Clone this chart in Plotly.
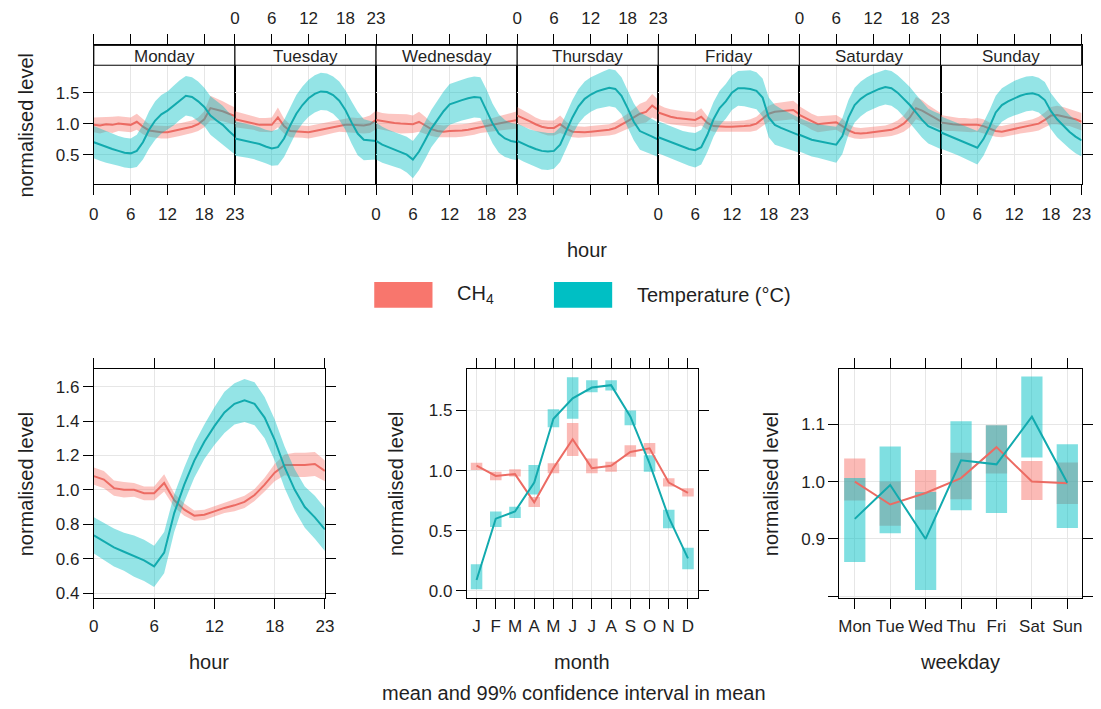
import plotly.graph_objects as go

# ---------------- data ----------------
DAYS = ["Monday", "Tuesday", "Wednesday", "Thursday", "Friday", "Saturday", "Sunday"]
HOURS = list(range(24))
HOUR_TICKS = [0, 6, 12, 18, 23]
MONTHS = list(range(1, 13))
MONTH_LABELS = ["J", "F", "M", "A", "M", "J", "J", "A", "S", "O", "N", "D"]
WEEKDAYS = list(range(1, 8))
WEEKDAY_LABELS = ["Mon", "Tue", "Wed", "Thu", "Fri", "Sat", "Sun"]

# day x hour means (one row per day, 24 hourly values)
CH4_DAYHOUR = [
    [0.98, 0.97, 0.99, 0.98, 1.00, 0.99, 0.98, 1.03, 0.95, 0.89, 0.87, 0.86, 0.86, 0.88, 0.90, 0.92, 0.95, 0.99, 1.07, 1.25, 1.23, 1.20, 1.16, 1.12],
    [1.07, 1.05, 1.03, 1.01, 0.98, 0.98, 0.98, 1.10, 0.96, 0.88, 0.87, 0.87, 0.86, 0.88, 0.90, 0.92, 0.95, 0.97, 0.98, 0.98, 0.97, 0.97, 0.99, 1.06],
    [1.06, 1.04, 1.02, 1.01, 1.00, 1.00, 0.99, 1.03, 0.97, 0.91, 0.88, 0.87, 0.88, 0.88, 0.89, 0.90, 0.92, 0.95, 0.96, 0.98, 1.00, 1.02, 1.04, 1.06],
    [1.13, 1.09, 1.04, 0.99, 0.95, 0.93, 0.93, 0.99, 0.92, 0.87, 0.86, 0.86, 0.87, 0.88, 0.89, 0.90, 0.93, 0.98, 1.04, 1.10, 1.16, 1.19, 1.29, 1.22],
    [1.18, 1.14, 1.11, 1.09, 1.08, 1.07, 1.06, 1.11, 1.01, 0.96, 0.95, 0.95, 0.95, 0.95, 0.96, 0.97, 1.00, 1.08, 1.16, 1.19, 1.20, 1.21, 1.22, 1.15],
    [1.14, 1.09, 1.03, 0.99, 1.00, 1.01, 1.02, 0.96, 0.89, 0.85, 0.84, 0.85, 0.86, 0.87, 0.88, 0.90, 0.94, 1.00, 1.10, 1.25, 1.21, 1.15, 1.09, 1.04],
    [1.02, 1.00, 0.99, 0.98, 0.98, 0.97, 0.98, 0.96, 0.92, 0.88, 0.87, 0.89, 0.91, 0.93, 0.95, 0.97, 1.00, 1.06, 1.13, 1.14, 1.12, 1.10, 1.07, 1.03],
]
CH4_DAYHOUR_HW = [
    [0.12, 0.13, 0.12, 0.13, 0.12, 0.12, 0.12, 0.13, 0.12, 0.10, 0.10, 0.10, 0.10, 0.10, 0.10, 0.10, 0.10, 0.11, 0.13, 0.20, 0.18, 0.16, 0.15, 0.14],
    [0.13, 0.12, 0.12, 0.11, 0.11, 0.11, 0.12, 0.16, 0.12, 0.10, 0.10, 0.10, 0.10, 0.10, 0.10, 0.10, 0.10, 0.10, 0.11, 0.12, 0.12, 0.13, 0.14, 0.15],
    [0.14, 0.13, 0.14, 0.15, 0.16, 0.15, 0.14, 0.16, 0.14, 0.11, 0.10, 0.10, 0.10, 0.10, 0.10, 0.10, 0.10, 0.10, 0.10, 0.11, 0.12, 0.12, 0.13, 0.14],
    [0.14, 0.13, 0.12, 0.11, 0.11, 0.12, 0.12, 0.14, 0.11, 0.09, 0.09, 0.09, 0.09, 0.09, 0.09, 0.09, 0.10, 0.11, 0.12, 0.14, 0.16, 0.17, 0.19, 0.16],
    [0.13, 0.12, 0.12, 0.12, 0.12, 0.12, 0.12, 0.14, 0.11, 0.09, 0.09, 0.09, 0.09, 0.09, 0.09, 0.10, 0.11, 0.12, 0.13, 0.14, 0.14, 0.15, 0.15, 0.14],
    [0.14, 0.13, 0.13, 0.13, 0.12, 0.12, 0.12, 0.12, 0.10, 0.09, 0.09, 0.09, 0.09, 0.09, 0.09, 0.10, 0.11, 0.13, 0.16, 0.18, 0.17, 0.15, 0.14, 0.13],
    [0.12, 0.12, 0.11, 0.11, 0.11, 0.11, 0.11, 0.11, 0.10, 0.09, 0.09, 0.09, 0.09, 0.09, 0.09, 0.10, 0.11, 0.12, 0.14, 0.15, 0.15, 0.14, 0.14, 0.14],
]
TEMP_DAYHOUR = [
    [0.70, 0.66, 0.62, 0.59, 0.56, 0.53, 0.52, 0.56, 0.70, 0.90, 1.05, 1.15, 1.21, 1.29, 1.38, 1.45, 1.43, 1.36, 1.27, 1.13, 1.05, 0.98, 0.88, 0.79],
    [0.76, 0.74, 0.72, 0.70, 0.67, 0.63, 0.60, 0.62, 0.76, 0.97, 1.16, 1.30, 1.41, 1.48, 1.52, 1.51, 1.46, 1.37, 1.22, 1.02, 0.84, 0.74, 0.73, 0.72],
    [0.72, 0.66, 0.62, 0.58, 0.55, 0.50, 0.42, 0.55, 0.73, 0.92, 1.06, 1.20, 1.31, 1.35, 1.38, 1.41, 1.43, 1.42, 1.22, 1.00, 0.84, 0.76, 0.72, 0.70],
    [0.72, 0.67, 0.63, 0.59, 0.56, 0.55, 0.56, 0.66, 0.88, 1.10, 1.28, 1.40, 1.47, 1.52, 1.55, 1.58, 1.56, 1.45, 1.25, 1.03, 0.88, 0.84, 0.79, 0.74],
    [0.78, 0.74, 0.70, 0.66, 0.62, 0.59, 0.57, 0.62, 0.82, 1.07, 1.25, 1.36, 1.50, 1.57, 1.57, 1.56, 1.53, 1.42, 1.10, 0.98, 0.93, 0.89, 0.85, 0.81],
    [0.82, 0.78, 0.74, 0.72, 0.70, 0.68, 0.66, 0.80, 1.10, 1.30, 1.40, 1.47, 1.52, 1.56, 1.59, 1.57, 1.50, 1.40, 1.30, 1.18, 1.06, 0.96, 0.91, 0.87],
    [0.86, 0.82, 0.78, 0.74, 0.70, 0.66, 0.61, 0.75, 0.95, 1.18, 1.30, 1.36, 1.41, 1.45, 1.48, 1.49, 1.46, 1.38, 1.20, 1.07, 0.97, 0.87, 0.79, 0.73],
]
TEMP_DAYHOUR_HW = [
    [0.26, 0.26, 0.25, 0.25, 0.24, 0.24, 0.24, 0.26, 0.28, 0.30, 0.31, 0.31, 0.31, 0.32, 0.32, 0.32, 0.32, 0.32, 0.31, 0.31, 0.31, 0.31, 0.30, 0.29],
    [0.28, 0.28, 0.27, 0.27, 0.27, 0.27, 0.28, 0.29, 0.30, 0.30, 0.30, 0.30, 0.30, 0.30, 0.30, 0.30, 0.30, 0.31, 0.32, 0.34, 0.35, 0.33, 0.31, 0.30],
    [0.30, 0.29, 0.28, 0.28, 0.28, 0.29, 0.30, 0.30, 0.30, 0.30, 0.31, 0.32, 0.33, 0.33, 0.33, 0.33, 0.33, 0.33, 0.33, 0.32, 0.31, 0.30, 0.29, 0.29],
    [0.28, 0.28, 0.28, 0.29, 0.30, 0.30, 0.29, 0.28, 0.28, 0.28, 0.28, 0.28, 0.28, 0.28, 0.29, 0.30, 0.30, 0.30, 0.30, 0.30, 0.30, 0.29, 0.29, 0.28],
    [0.26, 0.26, 0.26, 0.26, 0.26, 0.27, 0.28, 0.28, 0.28, 0.28, 0.28, 0.28, 0.28, 0.28, 0.29, 0.30, 0.30, 0.31, 0.32, 0.32, 0.31, 0.30, 0.29, 0.28],
    [0.27, 0.27, 0.27, 0.27, 0.27, 0.28, 0.29, 0.29, 0.28, 0.28, 0.28, 0.28, 0.28, 0.28, 0.28, 0.28, 0.28, 0.29, 0.29, 0.29, 0.29, 0.28, 0.28, 0.28],
    [0.26, 0.26, 0.26, 0.26, 0.26, 0.27, 0.27, 0.27, 0.27, 0.27, 0.27, 0.27, 0.28, 0.28, 0.28, 0.28, 0.28, 0.29, 0.29, 0.29, 0.28, 0.27, 0.27, 0.26],
]

# hour of day
CH4_HOUR = [1.08, 1.06, 1.01, 1.00, 1.00, 0.98, 0.98, 1.04, 0.94, 0.885, 0.85, 0.855, 0.875, 0.895, 0.91, 0.93, 0.97, 1.03, 1.10, 1.145, 1.145, 1.145, 1.15, 1.11]
CH4_HOUR_HW = [0.05, 0.05, 0.045, 0.045, 0.04, 0.04, 0.04, 0.05, 0.04, 0.035, 0.03, 0.03, 0.03, 0.03, 0.035, 0.035, 0.035, 0.04, 0.05, 0.06, 0.07, 0.07, 0.07, 0.06]
TEMP_HOUR = [0.735, 0.70, 0.665, 0.64, 0.615, 0.59, 0.555, 0.635, 0.865, 1.03, 1.17, 1.28, 1.37, 1.45, 1.50, 1.52, 1.50, 1.42, 1.29, 1.13, 1.00, 0.90, 0.84, 0.77]
TEMP_HOUR_HW = [0.105, 0.105, 0.11, 0.11, 0.12, 0.12, 0.12, 0.12, 0.11, 0.10, 0.10, 0.10, 0.11, 0.12, 0.12, 0.125, 0.125, 0.12, 0.12, 0.12, 0.12, 0.12, 0.125, 0.125]

# month
CH4_MONTH = [1.04, 0.955, 0.97, 0.735, 1.02, 1.26, 1.02, 1.04, 1.155, 1.185, 0.90, 0.815]
CH4_MONTH_LO = [1.005, 0.92, 0.95, 0.696, 0.977, 1.12, 0.977, 0.99, 1.115, 1.14, 0.867, 0.784]
CH4_MONTH_HI = [1.065, 0.99, 1.01, 0.78, 1.06, 1.395, 1.10, 1.073, 1.21, 1.23, 0.936, 0.853]
TEMP_MONTH = [0.09, 0.60, 0.66, 0.90, 1.43, 1.60, 1.69, 1.71, 1.45, 1.06, 0.61, 0.27]
TEMP_MONTH_LO = [0.014, 0.53, 0.605, 0.80, 1.36, 1.43, 1.65, 1.665, 1.376, 0.99, 0.52, 0.179]
TEMP_MONTH_HI = [0.22, 0.66, 0.70, 1.046, 1.51, 1.775, 1.75, 1.75, 1.50, 1.128, 0.674, 0.358]

# weekday
CH4_WDAY = [1.00, 0.96, 0.98, 1.006, 1.06, 1.00, 0.997]
CH4_WDAY_LO = [0.967, 0.923, 0.951, 0.969, 1.014, 0.968, 0.961]
CH4_WDAY_HI = [1.04, 1.00, 1.02, 1.05, 1.098, 1.036, 1.033]
TEMP_WDAY = [0.935, 0.994, 0.90, 1.037, 1.03, 1.113, 0.998]
TEMP_WDAY_LO = [0.86, 0.91, 0.811, 0.95, 0.945, 1.042, 0.919]
TEMP_WDAY_HI = [1.006, 1.061, 0.982, 1.105, 1.098, 1.183, 1.065]

# ---------------- styling ----------------
W, H = 1101, 709
FONT = "Liberation Sans, Arial, sans-serif"
TXT = "#1f1f1f"
RED, TEAL = "#F8766D", "#00BFC4"
RED_LINE, TEAL_LINE = "#EC6B63", "#12AAAE"
RED_FILL, TEAL_FILL = "rgba(248,118,109,0.42)", "rgba(0,191,196,0.42)"
RED_BOX, TEAL_BOX = "rgba(248,118,109,0.5)", "rgba(0,191,196,0.5)"
GRID = "#E6E6E6"


def fx(p):
    return p / W


def fy(p):
    return 1 - p / H


def band(x, mean, hw, color, xa, ya):
    up = [m + h for m, h in zip(mean, hw)]
    lo = [m - h for m, h in zip(mean, hw)]
    return go.Scatter(x=list(x) + list(x)[::-1], y=up + lo[::-1], fill="toself",
                      fillcolor=color, line=dict(width=0), mode="lines",
                      hoverinfo="skip", showlegend=False, xaxis=xa, yaxis=ya)


def line(x, y, color, xa, ya):
    return go.Scatter(x=x, y=y, mode="lines", line=dict(color=color, width=2),
                      showlegend=False, hoverinfo="skip", xaxis=xa, yaxis=ya)


def boxes(x, lo, hi, color, xa, ya):
    return go.Bar(x=x, y=[h - l for l, h in zip(lo, hi)], base=lo, width=0.6,
                  marker=dict(color=color, line=dict(width=0)), showlegend=False,
                  hoverinfo="skip", xaxis=xa, yaxis=ya)


fig = go.Figure()
layout = {}

axis_common = dict(showline=True, linecolor="black", linewidth=1, ticks="outside",
                   ticklen=10, tickcolor="black", tickwidth=1, showgrid=True,
                   gridcolor=GRID, gridwidth=1, zeroline=False, fixedrange=True,
                   tickfont=dict(size=17, color=TXT, family=FONT))

# ---------------- top panel: day x hour ----------------
left, right = 90.0, 1090.5
edges = [left + i * (right - left) / 7 for i in range(8)]
TOP_BOTTOM, TOP_PANEL_TOP, STRIP_TOP = 185.7, 65.7, 45.7
top_yrange = [0.019, 2.263]

for i, day in enumerate(DAYS):
    n = "" if i == 0 else str(i + 1)
    xa, ya = "x" + n, "y" + n
    fig.add_trace(band(HOURS, CH4_DAYHOUR[i], CH4_DAYHOUR_HW[i], RED_FILL, xa, ya))
    fig.add_trace(line(HOURS, CH4_DAYHOUR[i], RED_LINE, xa, ya))
    fig.add_trace(band(HOURS, TEMP_DAYHOUR[i], TEMP_DAYHOUR_HW[i], TEAL_FILL, xa, ya))
    fig.add_trace(line(HOURS, TEMP_DAYHOUR[i], TEAL_LINE, xa, ya))

    xax = dict(axis_common)
    xax.update(domain=[fx(edges[i]), fx(edges[i + 1])], anchor=ya, range=[0, 23],
               tickvals=HOUR_TICKS, side="bottom" if i % 2 == 0 else "top",
               mirror="ticks", ticklabelstandoff=4)
    yax = dict(axis_common)
    yax.update(domain=[fy(TOP_BOTTOM), fy(STRIP_TOP)], anchor=xa, range=top_yrange,
               tickvals=[0.5, 1.0, 1.5], ticktext=["0.5", "1.0", "1.5"], mirror=True)
    if i == 0:
        yax.update(side="left", showticklabels=True)
    elif i == 6:
        yax.update(side="right", showticklabels=False)
    else:
        yax.update(ticks="", showticklabels=False)
    layout["xaxis" + n] = xax
    layout["yaxis" + n] = yax

# ---------------- bottom panels ----------------
BOT_TOP, BOT_BOTTOM = 371.7, 602.3
panels = [
    ("8", [90, 324], [0, 23], HOUR_TICKS, None, [0.371, 1.702],
     [0.4, 0.6, 0.8, 1.0, 1.2, 1.4, 1.6], ["0.4", "0.6", "0.8", "1.0", "1.2", "1.4", "1.6"], None),
    ("9", [467.7, 701.7], [0.49, 12.51], MONTHS, MONTH_LABELS, [-0.06, 1.8435],
     [0.0, 0.5, 1.0, 1.5], ["0.0", "0.5", "1.0", "1.5"], None),
    ("10", [845, 1090.7], [0.562, 7.41], WEEKDAYS, WEEKDAY_LABELS, [0.797, 1.196],
     [0.9, 1.0, 1.1], ["0.9", "1.0", "1.1"], [0.8]),
]
for n, xd, xr, xt, xtt, yr, yt, ytt, yminor in panels:
    xax = dict(axis_common)
    xax.update(domain=[fx(xd[0]), fx(xd[1])], anchor="y" + n, range=xr, tickvals=xt,
               side="bottom", mirror="ticks", ticklabelstandoff=3)
    if xtt is not None:
        xax.update(ticktext=xtt)
    yax = dict(axis_common)
    yax.update(domain=[fy(BOT_BOTTOM), fy(BOT_TOP)], anchor="x" + n, range=yr,
               tickvals=yt, ticktext=ytt, side="left", mirror="ticks")
    if yminor is not None:
        yax.update(minor=dict(tickmode="array", tickvals=yminor, ticks="outside",
                              ticklen=10, tickcolor="black", tickwidth=1,
                              showgrid=True, gridcolor=GRID))
    layout["xaxis" + n] = xax
    layout["yaxis" + n] = yax

# hour panel
fig.add_trace(band(HOURS, CH4_HOUR, CH4_HOUR_HW, RED_FILL, "x8", "y8"))
fig.add_trace(line(HOURS, CH4_HOUR, RED_LINE, "x8", "y8"))
fig.add_trace(band(HOURS, TEMP_HOUR, TEMP_HOUR_HW, TEAL_FILL, "x8", "y8"))
fig.add_trace(line(HOURS, TEMP_HOUR, TEAL_LINE, "x8", "y8"))
# month panel
fig.add_trace(boxes(MONTHS, CH4_MONTH_LO, CH4_MONTH_HI, RED_BOX, "x9", "y9"))
fig.add_trace(line(MONTHS, CH4_MONTH, RED_LINE, "x9", "y9"))
fig.add_trace(boxes(MONTHS, TEMP_MONTH_LO, TEMP_MONTH_HI, TEAL_BOX, "x9", "y9"))
fig.add_trace(line(MONTHS, TEMP_MONTH, TEAL_LINE, "x9", "y9"))
# weekday panel
fig.add_trace(boxes(WEEKDAYS, CH4_WDAY_LO, CH4_WDAY_HI, RED_BOX, "x10", "y10"))
fig.add_trace(line(WEEKDAYS, CH4_WDAY, RED_LINE, "x10", "y10"))
fig.add_trace(boxes(WEEKDAYS, TEMP_WDAY_LO, TEMP_WDAY_HI, TEAL_BOX, "x10", "y10"))
fig.add_trace(line(WEEKDAYS, TEMP_WDAY, TEAL_LINE, "x10", "y10"))

# ---------------- strips, legend, titles ----------------
shapes, annotations = [], []
for i, day in enumerate(DAYS):
    shapes.append(dict(type="rect", xref="paper", yref="paper", x0=fx(edges[i]),
                       x1=fx(edges[i + 1]), y0=fy(TOP_PANEL_TOP), y1=fy(STRIP_TOP),
                       fillcolor="white", line=dict(color="black", width=1), layer="above"))
    annotations.append(dict(text=day, xref="paper", yref="paper",
                            x=fx((edges[i] + edges[i + 1]) / 2), y=fy(56.5),
                            xanchor="center", yanchor="middle", showarrow=False,
                            font=dict(size=17, color=TXT, family=FONT)))

# legend (drawn as key boxes + labels)
shapes.append(dict(type="rect", xref="paper", yref="paper", x0=fx(374), x1=fx(433),
                   y0=fy(310), y1=fy(284), fillcolor=RED, line=dict(width=0)))
shapes.append(dict(type="rect", xref="paper", yref="paper", x0=fx(556), x1=fx(615),
                   y0=fy(310), y1=fy(284), fillcolor=TEAL, line=dict(width=0)))


def ann(text, x, y, size=20, angle=0, xanchor="center"):
    return dict(text=text, xref="paper", yref="paper", x=fx(x), y=fy(y),
                xanchor=xanchor, yanchor="middle", showarrow=False, textangle=angle,
                font=dict(size=size, color=TXT, family=FONT))


annotations += [
    ann("CH<sub>4</sub>", 456, 297, xanchor="left"),
    ann("Temperature (°C)", 638, 297, xanchor="left"),
    ann("normalised level", 21, 125.7, angle=-90),
    ann("hour", 590, 252),
    ann("normalised level", 21, 487, angle=-90),
    ann("normalised level", 395.5, 487, angle=-90),
    ann("normalised level", 775.5, 487, angle=-90),
    ann("hour", 207, 667),
    ann("month", 584.7, 667),
    ann("weekday", 967.8, 667),
    ann("mean and 99% confidence interval in mean", 576, 698),
]

fig.update_layout(
    width=W, height=H, margin=dict(l=0, r=0, t=0, b=0),
    paper_bgcolor="white", plot_bgcolor="white", showlegend=False,
    barmode="overlay", shapes=shapes, annotations=annotations,
    font=dict(family=FONT, color=TXT), **layout,
)

fig.write_html("out.html", config={"displayModeBar": False})
